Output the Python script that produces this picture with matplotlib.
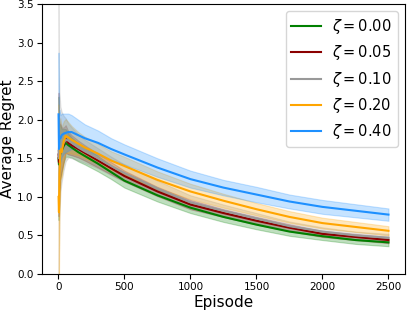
import matplotlib
matplotlib.use("Agg")
import matplotlib.pyplot as plt
import numpy as np

episodes = [1, 4, 8, 15, 25, 40, 55, 75, 100, 150, 200, 300, 400, 500, 750,
            1000, 1250, 1500, 1750, 2000, 2250, 2500]

labels = [r"$\zeta = 0.00$", r"$\zeta = 0.05$", r"$\zeta = 0.10$",
          r"$\zeta = 0.20$", r"$\zeta = 0.40$"]
colors = ["green", "darkred", "#999999", "orange", "dodgerblue"]

mean_000 = [1.50, 1.42, 1.48, 1.58, 1.60, 1.66, 1.70, 1.67, 1.64, 1.58, 1.53, 1.43, 1.32, 1.21, 1.02, 0.86, 0.74, 0.64, 0.55, 0.49, 0.44, 0.41]
mean_005 = [1.55, 1.45, 1.50, 1.60, 1.62, 1.68, 1.75, 1.70, 1.67, 1.62, 1.57, 1.47, 1.37, 1.27, 1.07, 0.90, 0.79, 0.69, 0.60, 0.52, 0.48, 0.44]
mean_010 = [1.60, 1.50, 1.55, 1.62, 1.65, 1.70, 1.74, 1.73, 1.70, 1.64, 1.59, 1.50, 1.40, 1.31, 1.11, 0.93, 0.82, 0.72, 0.62, 0.55, 0.50, 0.47]
mean_020 = [1.00, 0.80, 1.30, 1.62, 1.58, 1.72, 1.79, 1.77, 1.74, 1.69, 1.64, 1.56, 1.47, 1.40, 1.22, 1.07, 0.95, 0.84, 0.74, 0.66, 0.61, 0.56]
mean_040 = [2.07, 1.62, 1.78, 1.76, 1.80, 1.82, 1.83, 1.84, 1.84, 1.80, 1.76, 1.70, 1.62, 1.55, 1.38, 1.23, 1.12, 1.03, 0.94, 0.87, 0.82, 0.77]

std_000 = [0.80, 0.60, 0.45, 0.35, 0.28, 0.22, 0.18, 0.15, 0.13, 0.12, 0.11, 0.10, 0.09, 0.09, 0.08, 0.07, 0.065, 0.06, 0.055, 0.05, 0.05, 0.05]
std_005 = [0.80, 0.60, 0.45, 0.35, 0.28, 0.22, 0.18, 0.15, 0.13, 0.11, 0.10, 0.09, 0.08, 0.07, 0.06, 0.06, 0.05, 0.05, 0.045, 0.04, 0.04, 0.04]
std_010 = [1.90, 1.20, 0.80, 0.55, 0.45, 0.35, 0.28, 0.22, 0.20, 0.17, 0.15, 0.13, 0.12, 0.11, 0.10, 0.09, 0.08, 0.07, 0.06, 0.055, 0.05, 0.05]
std_020 = [1.20, 0.90, 0.60, 0.40, 0.32, 0.26, 0.22, 0.20, 0.18, 0.15, 0.14, 0.13, 0.12, 0.12, 0.11, 0.10, 0.09, 0.08, 0.075, 0.07, 0.065, 0.06]
std_040 = [0.80, 0.50, 0.35, 0.30, 0.28, 0.26, 0.25, 0.24, 0.22, 0.20, 0.18, 0.16, 0.14, 0.13, 0.12, 0.11, 0.10, 0.10, 0.09, 0.09, 0.085, 0.08]

means = [mean_000, mean_005, mean_010, mean_020, mean_040]
stds = [std_000, std_005, std_010, std_020, std_040]

fig = plt.figure(figsize=(4.07, 3.11), dpi=100)
ax = fig.add_axes([0.103, 0.119, 0.892, 0.868])

x = np.array(episodes, dtype=float)
for m, s, c in zip(means, stds, colors):
    m = np.array(m); s = np.array(s)
    ax.fill_between(x, m - s, m + s, color=c, alpha=0.25, linewidth=0.8)
for m, c, lab in zip(means, colors, labels):
    ax.plot(x, m, color=c, linewidth=1.5, label=lab)

ax.set_xlim(-125, 2625)
ax.set_ylim(0, 3.5)
ax.set_xticks([0, 500, 1000, 1500, 2000, 2500])
ax.set_yticks([0.0, 0.5, 1.0, 1.5, 2.0, 2.5, 3.0, 3.5])
ax.tick_params(labelsize=7.5, pad=2.5)
ax.set_xlabel("Episode", fontsize=11, labelpad=2)
ax.set_ylabel("Average Regret", fontsize=11)
ax.yaxis.set_label_coords(-0.075, 0.5)
ax.legend(loc="upper right", fontsize=10.5)

fig.savefig("out.png", dpi=100)
